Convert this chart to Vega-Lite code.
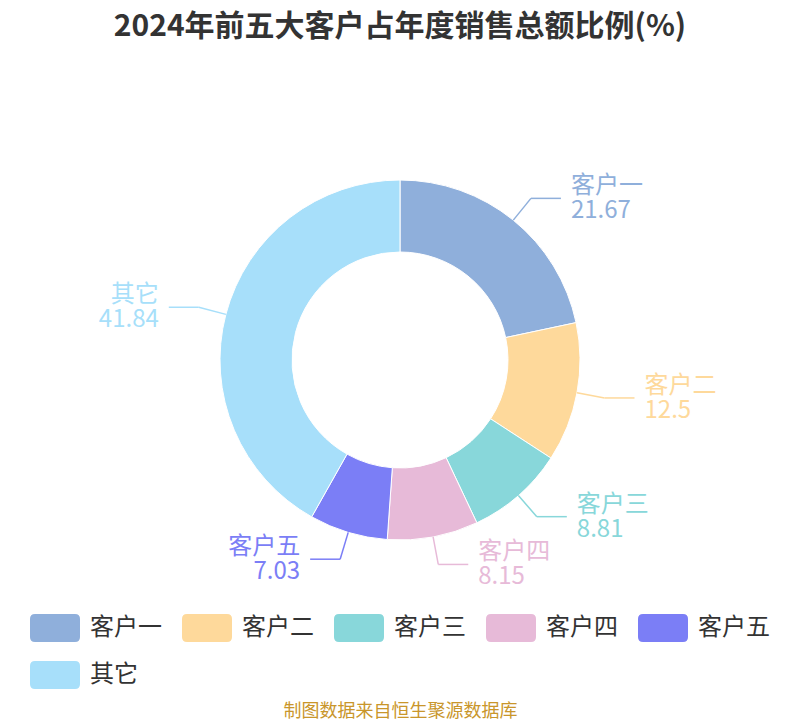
{
  "$schema": "https://vega.github.io/schema/vega-lite/v6.json",
  "width": 800,
  "height": 720,
  "autosize": "none",
  "padding": 0,
  "title": {
    "text": "2024年前五大客户占年度销售总额比例(%)",
    "font": "Noto Sans CJK SC",
    "fontSize": 30,
    "fontWeight": "bold",
    "color": "#333333",
    "anchor": "middle",
    "frame": "group",
    "baseline": "alphabetic",
    "offset": -66
  },
  "config": {"view": {"stroke": null}, "font": "Noto Sans CJK SC"},
  "data": {
    "values": [
      {"name": "客户一", "value": 21.67},
      {"name": "客户二", "value": 12.5},
      {"name": "客户三", "value": 8.81},
      {"name": "客户四", "value": 8.15},
      {"name": "客户五", "value": 7.03},
      {"name": "其它", "value": 41.84}
    ]
  },
  "transform": [
    {"window": [{"op": "row_number", "as": "rn"}]},
    {"window": [{"op": "sum", "field": "value", "as": "cum"}], "sort": [{"field": "rn"}], "frame": [null, 0]},
    {"joinaggregate": [{"op": "sum", "field": "value", "as": "total"}]},
    {"calculate": "2 * PI * (datum.cum - datum.value / 2) / datum.total", "as": "ang"},
    {"calculate": "sin(datum.ang) >= 0 ? 1 : -1", "as": "side"},
    {"calculate": "180 * sin(datum.ang)", "as": "x0"},
    {"calculate": "180 * cos(datum.ang)", "as": "y0"},
    {"calculate": "208 * sin(datum.ang)", "as": "x1"},
    {"calculate": "208 * cos(datum.ang)", "as": "y1"},
    {"calculate": "datum.x1 + 30 * datum.side", "as": "x2"},
    {"calculate": "datum.x2 + 10 * datum.side", "as": "xt"},
    {"calculate": "datum.name + '\\n' + datum.value", "as": "label"}
  ],
  "layer": [
    {
      "mark": {"type": "arc", "outerRadius": 180, "innerRadius": 108, "stroke": "#ffffff", "strokeWidth": 1},
      "encoding": {
        "theta": {"field": "value", "type": "quantitative", "stack": true},
        "order": {"field": "rn", "type": "quantitative"},
        "color": {
          "field": "name",
          "type": "nominal",
          "scale": {
            "domain": ["客户一", "客户二", "客户三", "客户四", "客户五", "其它"],
            "range": ["#8fafdb", "#fed99b", "#88d7da", "#e7bad8", "#7b7ef6", "#a7dffa"]
          },
          "legend": {
            "orient": "none",
            "legendX": 30,
            "legendY": 603,
            "direction": "horizontal",
            "columns": 5,
            "title": null,
            "padding": 0,
            "symbolType": "M-0.8,-0.56L0.8,-0.56Q1,-0.56,1,-0.36L1,0.36Q1,0.56,0.8,0.56L-0.8,0.56Q-1,0.56,-1,0.36L-1,-0.36Q-1,-0.56,-0.8,-0.56Z",
            "symbolSize": 2500,
            "symbolStrokeWidth": 0,
            "symbolOpacity": 1,
            "labelFont": "Noto Sans CJK SC",
            "labelFontSize": 24,
            "labelColor": "#333333",
            "labelOffset": 10,
            "labelLimit": 0,
            "columnPadding": 20,
            "rowPadding": 8
          }
        }
      }
    },
    {
      "mark": {"type": "rule", "strokeWidth": 1.5},
      "encoding": {
        "x": {
          "field": "x0",
          "type": "quantitative",
          "scale": {"domain": [-400, 400], "nice": false, "zero": false},
          "axis": {
            "title": "制图数据来自恒生聚源数据库",
            "labels": false,
            "ticks": false,
            "domain": false,
            "grid": false,
            "titleFont": "Noto Sans CJK SC",
            "titleFontSize": 18,
            "titleFontWeight": "normal",
            "titleColor": "#c9962b",
            "titleBaseline": "alphabetic",
            "titleY": -4
          }
        },
        "y": {"field": "y0", "type": "quantitative", "scale": {"domain": [-360, 360], "nice": false, "zero": false}, "axis": null},
        "x2": {"field": "x1"},
        "y2": {"field": "y1"},
        "color": {"field": "name", "type": "nominal"}
      }
    },
    {
      "mark": {"type": "rule", "strokeWidth": 1.5},
      "encoding": {
        "x": {"field": "x1", "type": "quantitative"},
        "y": {"field": "y1", "type": "quantitative"},
        "x2": {"field": "x2"},
        "color": {"field": "name", "type": "nominal"}
      }
    },
    {
      "transform": [{"filter": "datum.side > 0"}],
      "mark": {"type": "text", "align": "left", "baseline": "middle", "dy": -12, "fontSize": 24, "lineHeight": 25, "lineBreak": "\n", "font": "Noto Sans CJK SC"},
      "encoding": {
        "x": {"field": "xt", "type": "quantitative"},
        "y": {"field": "y1", "type": "quantitative"},
        "text": {"field": "label"},
        "color": {"field": "name", "type": "nominal"}
      }
    },
    {
      "transform": [{"filter": "datum.side < 0"}],
      "mark": {"type": "text", "align": "right", "baseline": "middle", "dy": -12, "fontSize": 24, "lineHeight": 25, "lineBreak": "\n", "font": "Noto Sans CJK SC"},
      "encoding": {
        "x": {"field": "xt", "type": "quantitative"},
        "y": {"field": "y1", "type": "quantitative"},
        "text": {"field": "label"},
        "color": {"field": "name", "type": "nominal"}
      }
    }
  ]
}
